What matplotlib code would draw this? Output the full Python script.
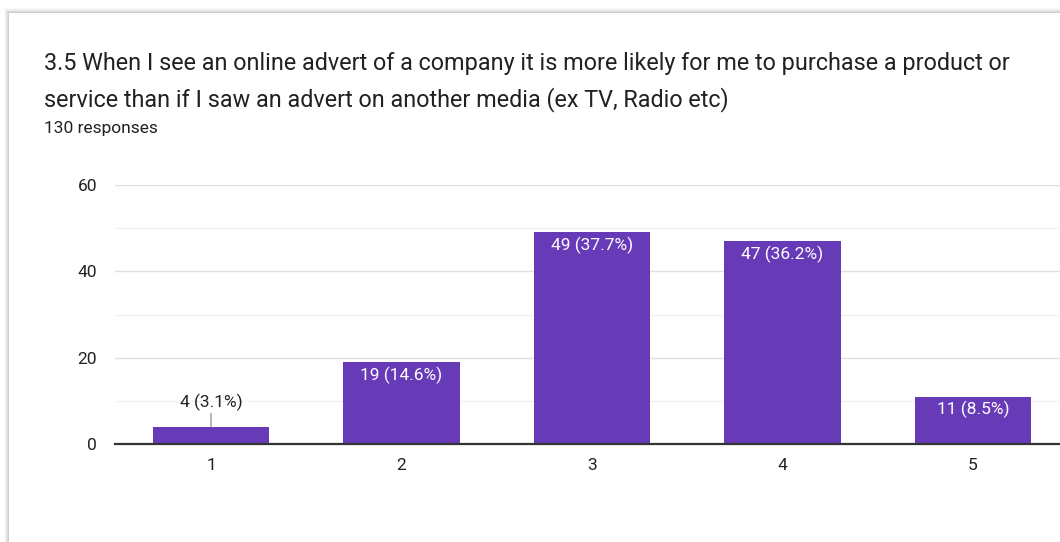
import matplotlib.pyplot as plt
from matplotlib.patches import Rectangle

plt.rcParams['font.family'] = ['Roboto', 'DejaVu Sans']

title = ("3.5 When I see an online advert of a company it is more likely for me to purchase a product or\n"
         "service than if I saw an advert on another media (ex TV, Radio etc)")
subtitle = "130 responses"
categories = [1, 2, 3, 4, 5]
counts = [4, 19, 49, 47, 11]
labels = ["4 (3.1%)", "19 (14.6%)", "49 (37.7%)", "47 (36.2%)", "11 (8.5%)"]

W, H = 1060, 542
fig = plt.figure(figsize=(W / 100, H / 100), dpi=100)
fig.patch.set_facecolor('white')

# card with a soft shadow on its top and left edges
for i, a in enumerate([0.02, 0.03, 0.04, 0.05, 0.06]):
    off = 5 - i
    fig.patches.append(Rectangle(((9 - off) / W, 0), 1, (H - 13 + off) / H,
                                 transform=fig.transFigure, color='black',
                                 alpha=a, lw=0, zorder=-3))
fig.patches.append(Rectangle((9 / W, 0), 1, (H - 13) / H, transform=fig.transFigure,
                             facecolor='white', lw=0, zorder=-2))

fig.text(44 / W, 1 - 82 / H, title, fontsize=16.8, color='#202124',
         va='center', ha='left', linespacing=1.6)
fig.text(44 / W, 1 - 129 / H, subtitle, fontsize=12.5, color='#202124',
         va='center', ha='left')

ax = fig.add_axes([115 / W, (H - 444) / H, 1 - 115 / W, 259 / H])
ax.set_facecolor('none')
purple = '#673AB7'
ax.bar(categories, counts, width=0.61, color=purple, zorder=3)

ax.set_xlim(0.496, 5.457)
ax.set_ylim(0, 60)
ax.set_yticks([0, 20, 40, 60])
ax.set_yticks([10, 30, 50], minor=True)
ax.grid(axis='y', which='major', color='#e0e0e0', lw=1, zorder=0)
ax.grid(axis='y', which='minor', color='#f1f1f1', lw=1, zorder=0)
ax.set_xticks(categories)
ax.tick_params(axis='both', which='both', length=0, labelsize=12.5, labelcolor='#222222')
ax.tick_params(axis='x', pad=10)
ax.tick_params(axis='y', pad=13)
for s in ['top', 'right', 'left']:
    ax.spines[s].set_visible(False)
ax.spines['bottom'].set_color('#333333')
ax.spines['bottom'].set_linewidth(1.6)
ax.spines['bottom'].set_zorder(4)

for x, c, lab in zip(categories, counts, labels):
    if c < 8:
        ax.annotate(lab, xy=(x, c), xytext=(0, 11.5), textcoords='offset points',
                    ha='center', va='bottom', fontsize=12.5, color='#222222',
                    arrowprops=dict(arrowstyle='-', color='#999999', lw=1,
                                    shrinkA=0, shrinkB=0))
    else:
        ax.annotate(lab, xy=(x, c), xytext=(0, -9.5), textcoords='offset points',
                    ha='center', va='center', fontsize=12.5, color='white', zorder=5)

fig.savefig('out.png', dpi=100)
